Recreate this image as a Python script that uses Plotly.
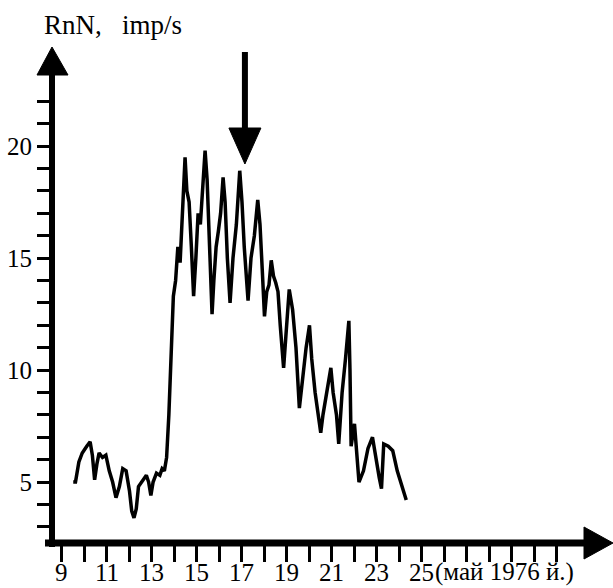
import plotly.graph_objects as go

# ---- data ----
days = [9.5, 9.6, 9.75, 9.9, 10.1, 10.25, 10.35, 10.45, 10.55, 10.65, 10.8, 10.95,
        11.1, 11.25, 11.4, 11.55, 11.7, 11.85, 12.0, 12.1, 12.2, 12.3, 12.4, 12.55,
        12.75, 12.85, 12.95, 13.05, 13.2, 13.35, 13.45, 13.55, 13.65, 13.75, 13.85,
        13.95, 14.05, 14.15, 14.25, 14.35, 14.47, 14.55, 14.65, 14.75, 14.85, 14.95,
        15.05, 15.15, 15.25, 15.36, 15.45, 15.55, 15.67, 15.75, 15.85, 15.95, 16.05,
        16.16, 16.25, 16.35, 16.47, 16.6, 16.75, 16.9, 17.0, 17.1, 17.27, 17.4, 17.55,
        17.7, 17.8, 17.9, 18.0, 18.1, 18.2, 18.3, 18.4, 18.5, 18.6, 18.7, 18.85, 18.95,
        19.1, 19.25, 19.4, 19.55, 19.7, 19.85, 20.0, 20.1, 20.25, 20.4, 20.5, 20.6,
        20.75, 20.95, 21.05, 21.2, 21.3, 21.45, 21.6, 21.75, 21.8, 21.85, 22.0, 22.1,
        22.2, 22.4, 22.6, 22.8, 22.95, 23.1, 23.2, 23.3, 23.5, 23.7, 23.9, 24.1, 24.3]
rnn = [5.0, 5.0, 5.9, 6.3, 6.6, 6.8, 6.2, 5.1, 5.8, 6.3, 6.1, 6.2,
       5.5, 5.0, 4.3, 4.8, 5.6, 5.5, 4.6, 3.7, 3.4, 3.8, 4.8, 5.0,
       5.3, 5.0, 4.4, 5.0, 5.4, 5.3, 5.6, 5.5, 6.1, 8.0, 10.5,
       13.3, 14.0, 15.5, 14.8, 17.0, 19.5, 18.0, 17.5, 15.5, 13.3, 15.0,
       17.0, 16.5, 18.0, 19.8, 18.5, 16.0, 12.5, 14.0, 15.5, 16.2, 17.0,
       18.6, 17.5, 15.0, 13.0, 15.0, 16.5, 18.9, 17.5, 15.5, 13.1, 15.0, 16.0,
       17.6, 16.5, 14.5, 12.4, 13.5, 13.8, 14.9, 14.2, 13.9, 13.5, 12.0, 10.1, 11.5,
       13.6, 12.7, 11.0, 8.3, 9.8, 11.0, 12.0, 10.5, 9.0, 8.0, 7.2, 8.0,
       9.0, 10.1, 9.0, 8.0, 6.7, 9.0, 10.5, 12.2, 10.0, 6.6, 7.6, 6.5,
       5.0, 5.5, 6.5, 7.0, 6.0, 5.2, 4.7, 6.7, 6.6, 6.4, 5.5, 4.8, 4.2]

x_ticks = list(range(9, 32))
x_label_vals = list(range(9, 26, 2))
x_label_text = [str(d) for d in x_label_vals]
y_ticks = list(range(3, 23))
y_labels = [str(v) if v % 5 == 0 else "" for v in y_ticks]
arrow_day = 17.13
NB = "\u00a0"
y_title = "RnN," + NB * 3 + "imp/s"
x_note = "(май" + NB + "1976" + NB + "й.)"

# ---- layout geometry (pixels) ----
W, H = 613, 588
L, R, T, B = 50, 0, 48, 43
PW, PH = W - L - R, H - T - B
XR = [8.467, 33.49]
YR = [2.19, 24.38]

def px(xp):
    return (xp - L) / PW

def py(yp):
    return (H - B - yp) / PH

FONT = "Liberation Serif"

fig = go.Figure()
fig.add_trace(go.Scatter(x=days, y=rnn, mode="lines",
                         line=dict(color="black", width=3.5), showlegend=False,
                         hoverinfo="skip"))

shapes = []
# y axis line + arrow head
shapes.append(dict(type="line", xref="paper", yref="paper",
                   x0=px(52), x1=px(52), y0=py(547), y1=py(72),
                   line=dict(color="black", width=6)))
shapes.append(dict(type="path", xref="paper", yref="paper",
                   path=f"M {px(37)},{py(75)} L {px(68)},{py(75)} L {px(52)},{py(47)} Z",
                   fillcolor="black", line=dict(color="black", width=1)))
# x axis line + arrow head
shapes.append(dict(type="line", xref="paper", yref="paper",
                   x0=px(45), x1=px(590), y0=py(543), y1=py(543),
                   line=dict(color="black", width=7)))
shapes.append(dict(type="path", xref="paper", yref="paper",
                   path=f"M {px(584)},{py(527)} L {px(584)},{py(559)} L {px(613)},{py(543)} Z",
                   fillcolor="black", line=dict(color="black", width=1)))
# marker arrow (down)
shapes.append(dict(type="line", xref="x", yref="paper",
                   x0=arrow_day, x1=arrow_day, y0=py(52), y1=py(132),
                   line=dict(color="black", width=6)))
dx = 16 / (PW / (XR[1] - XR[0]))
shapes.append(dict(type="path", xref="x", yref="paper",
                   path=f"M {arrow_day-dx},{py(128)} L {arrow_day+dx},{py(128)} L {arrow_day},{py(164)} Z",
                   fillcolor="black", line=dict(color="black", width=1)))

annotations = [
    dict(text=y_title, xref="paper", yref="paper", x=px(42), y=py(25),
         xanchor="left", yanchor="middle", showarrow=False,
         font=dict(family=FONT, size=27, color="black")),
    dict(text=x_note, xref="paper", yref="paper", x=px(434), y=py(572),
         xanchor="left", yanchor="middle", showarrow=False, borderpad=0,
         font=dict(family=FONT, size=25, color="black")),
]
for v, t in zip(x_label_vals, x_label_text):
    annotations.append(dict(text=t, xref="x", yref="paper", x=v, y=py(572),
                            xanchor="center", yanchor="middle", showarrow=False,
                            borderpad=0,
                            font=dict(family=FONT, size=25, color="black")))

fig.update_layout(
    width=W, height=H,
    margin=dict(l=L, r=R, t=T, b=B, pad=0),
    paper_bgcolor="white", plot_bgcolor="white",
    shapes=shapes, annotations=annotations,
    font=dict(family=FONT, size=25, color="black"),
    xaxis=dict(range=XR, tickmode="array", tickvals=x_ticks,
               ticktext=[""] * len(x_ticks), ticks="outside", ticklen=16, tickwidth=3,
               tickcolor="black", showgrid=False, zeroline=False, showline=False,
               fixedrange=True, automargin=False),
    yaxis=dict(range=YR, tickmode="array", tickvals=y_ticks,
               ticktext=y_labels, ticks="outside", ticklen=12, tickwidth=3,
               tickcolor="black", showgrid=False, zeroline=False, showline=False,
               fixedrange=True, automargin=False),
)

fig.write_html("out.html", config={"displayModeBar": False},
               post_script="document.body.style.margin='0';document.body.style.overflow='hidden';")
